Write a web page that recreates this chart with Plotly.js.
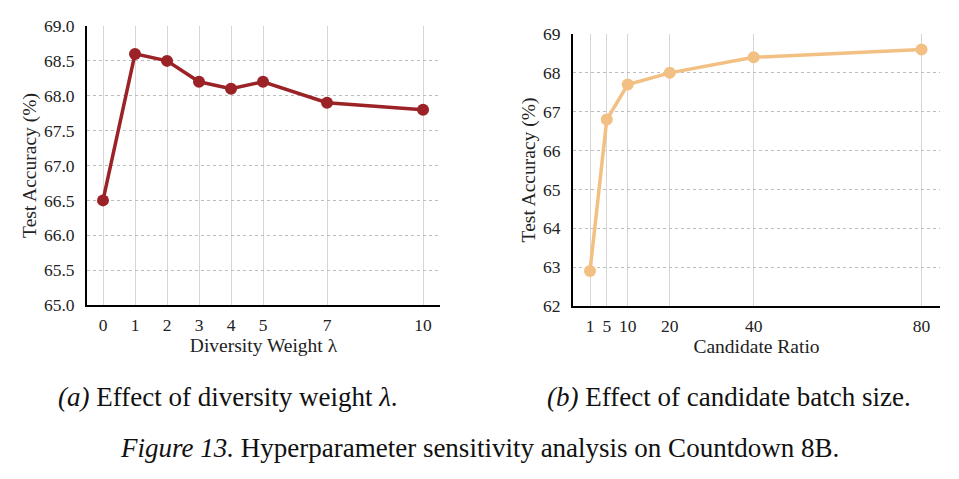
<!DOCTYPE html>
<html>
<head>
<meta charset="utf-8">
<script src="https://cdn.plot.ly/plotly-3.0.1.min.js"></script>
<style>
  html, body { margin: 0; padding: 0; background: #fff; }
  #chart { width: 959px; height: 479px; }
</style>
</head>
<body>
<div id="chart"></div>
<script>
// (a) diversity weight sweep
const lambdaValues = [0, 1, 2, 3, 4, 5, 7, 10];
const lambdaAccuracy = [66.5, 68.6, 68.5, 68.2, 68.1, 68.2, 67.9, 67.8];

// (b) candidate ratio sweep
const candidateRatios = [1, 5, 10, 20, 40, 80];
const candidateAccuracy = [62.9, 66.8, 67.7, 68.0, 68.4, 68.6];

const leftYTicks = [65.0, 65.5, 66.0, 66.5, 67.0, 67.5, 68.0, 68.5, 69.0];
const rightYTicks = [62, 63, 64, 65, 66, 67, 68, 69];

const W = 959, H = 479;
const px = v => v / W;
const py = v => 1 - v / H;

const serif = "Liberation Serif, Times New Roman, serif";
const tickFont = { family: serif, size: 17.5, color: "#222" };
const titleFont = { family: serif, size: 19.5, color: "#222" };

function xAxis(domain, tickvals, range, title, anchor) {
  return {
    domain: domain, anchor: anchor, range: range,
    tickmode: "array", tickvals: tickvals, ticktext: tickvals.map(String),
    showgrid: true, gridcolor: "#d6d6d6", gridwidth: 1,
    showline: true, linecolor: "#000", linewidth: 2,
    ticks: "", ticklabelstandoff: 3,
    tickfont: tickFont, zeroline: false,
    title: { text: title, font: titleFont, standoff: 2 }
  };
}

function yAxis(domain, tickvals, range, fmt, anchor) {
  return {
    domain: domain, anchor: anchor, range: range,
    tickmode: "array", tickvals: tickvals, tickformat: fmt,
    showgrid: true, gridcolor: "#bdbdbd", gridwidth: 1, griddash: "dot",
    showline: true, linecolor: "#000", linewidth: 2,
    ticks: "", ticklabelstandoff: 7,
    tickfont: tickFont, zeroline: false,
    title: { text: "Test Accuracy (%)", font: titleFont, standoff: 2 }
  };
}

const traces = [
  {
    x: lambdaValues, y: lambdaAccuracy, xaxis: "x", yaxis: "y",
    type: "scatter", mode: "lines+markers", cliponaxis: false,
    line: { color: "#9b2226", width: 3.5 },
    marker: { color: "#9b2226", size: 12 },
    hoverinfo: "skip"
  },
  {
    x: candidateRatios, y: candidateAccuracy, xaxis: "x2", yaxis: "y2",
    type: "scatter", mode: "lines+markers", cliponaxis: false,
    line: { color: "#f2c083", width: 3.5 },
    marker: { color: "#f2c083", size: 12 },
    hoverinfo: "skip"
  }
];

const layout = {
  width: W, height: H,
  margin: { l: 0, r: 0, t: 0, b: 0 },
  paper_bgcolor: "#fff", plot_bgcolor: "#fff",
  showlegend: false,
  xaxis: xAxis([px(87), px(440)], lambdaValues, [-0.5, 10.53], "Diversity Weight λ", "y"),
  yaxis: yAxis([py(305), py(26)], leftYTicks, [65, 69], ".1f", "x"),
  xaxis2: xAxis([px(573), px(940)], candidateRatios, [-3.05, 84.4], "Candidate Ratio", "y2"),
  yaxis2: yAxis([py(306), py(34)], rightYTicks, [62, 69], "d", "x2"),
  annotations: [
    {
      text: "<i>(a)</i> Effect of diversity weight <i>λ</i>.",
      xref: "paper", yref: "paper", x: px(228), y: py(397),
      xanchor: "center", yanchor: "middle", showarrow: false,
      font: { family: serif, size: 27, color: "#111" }
    },
    {
      text: "<i>(b)</i> Effect of candidate batch size.",
      xref: "paper", yref: "paper", x: px(729), y: py(397),
      xanchor: "center", yanchor: "middle", showarrow: false,
      font: { family: serif, size: 27, color: "#111" }
    },
    {
      text: "<i>Figure 13.</i> Hyperparameter sensitivity analysis on Countdown 8B.",
      xref: "paper", yref: "paper", x: px(479), y: py(448),
      xanchor: "center", yanchor: "middle", showarrow: false,
      font: { family: serif, size: 27, color: "#111" }
    }
  ]
};

Plotly.newPlot("chart", traces, layout, { staticPlot: true, displayModeBar: false });
</script>
</body>
</html>
